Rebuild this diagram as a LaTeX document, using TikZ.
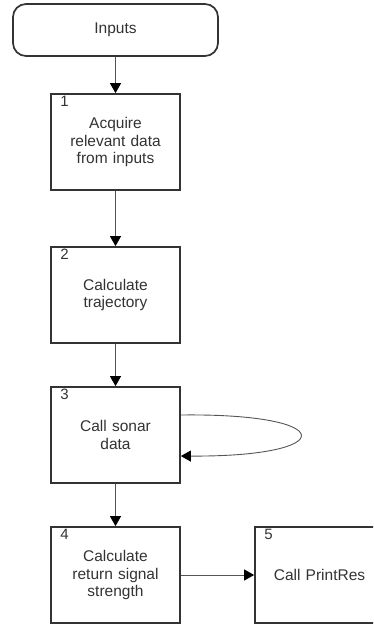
\documentclass[tikz,border=0pt]{standalone}
\usepackage{fontspec}
\setmainfont{Liberation Sans}
\usetikzlibrary{arrows.meta}
\definecolor{bd}{HTML}{333333}
\definecolor{ln}{HTML}{555555}
\definecolor{tx}{HTML}{333333}
\begin{document}
\begin{tikzpicture}[x=1pt,y=-1pt,
  stepbox/.style={draw=bd,line width=1.7pt,fill=white,minimum width=129pt,minimum height=96pt,inner sep=0pt,text width=110pt,align=center,font=\fontsize{15.5}{17.7}\selectfont,text=tx},
  startbox/.style={draw=bd,line width=1.7pt,fill=white,rounded corners=13pt,minimum width=205pt,minimum height=52pt,inner sep=0pt,font=\fontsize{15.5}{17.7}\selectfont,text=tx},
  numlbl/.style={anchor=north west,inner sep=0pt,font=\fontsize{15}{17}\selectfont,text=tx},
  conn/.style={draw=ln,line width=1pt,-{Triangle[length=10pt,width=11pt,color=black]}}]
\useasboundingbox (0,0) rectangle (373,625);
\clip (0,0) rectangle (373,625);
\node[startbox] (inp) at (115.5,30) {Inputs};
\node[stepbox] (b1) at (115.5,142) {Acquire\\relevant data\\from inputs};
\node[stepbox] (b2) at (115.5,295) {Calculate\\trajectory};
\node[stepbox] (b3) at (115.5,435) {Call sonar\\data};
\node[stepbox] (b4) at (115.5,575) {Calculate\\return signal\\strength};
\node[stepbox] (b5) at (319.5,575) {Call PrintRes};
\node[numlbl] (n1) at ([xshift=10pt,yshift=-3pt]b1.north west) {1};
\node[numlbl] (n2) at ([xshift=10pt,yshift=-3pt]b2.north west) {2};
\node[numlbl] (n3) at ([xshift=10pt,yshift=-3pt]b3.north west) {3};
\node[numlbl] (n4) at ([xshift=10pt,yshift=-3pt]b4.north west) {4};
\node[numlbl] (n5) at ([xshift=10pt,yshift=-3pt]b5.north west) {5};
\draw[conn] (inp.south) -- (b1.north);
\draw[conn] (b1.south) -- (b2.north);
\draw[conn] (b2.south) -- (b3.north);
\draw[conn] (b3.south) -- (b4.north);
\draw[conn] (b4.east) -- (b5.west);
\coordinate (lo1) at ([yshift=20pt]b3.east);
\coordinate (lo2) at ([yshift=-21pt]b3.east);
\draw[conn,line width=0.9pt] (lo1) .. controls (340,413) and (340,457) .. (lo2);
\end{tikzpicture}
\end{document}
